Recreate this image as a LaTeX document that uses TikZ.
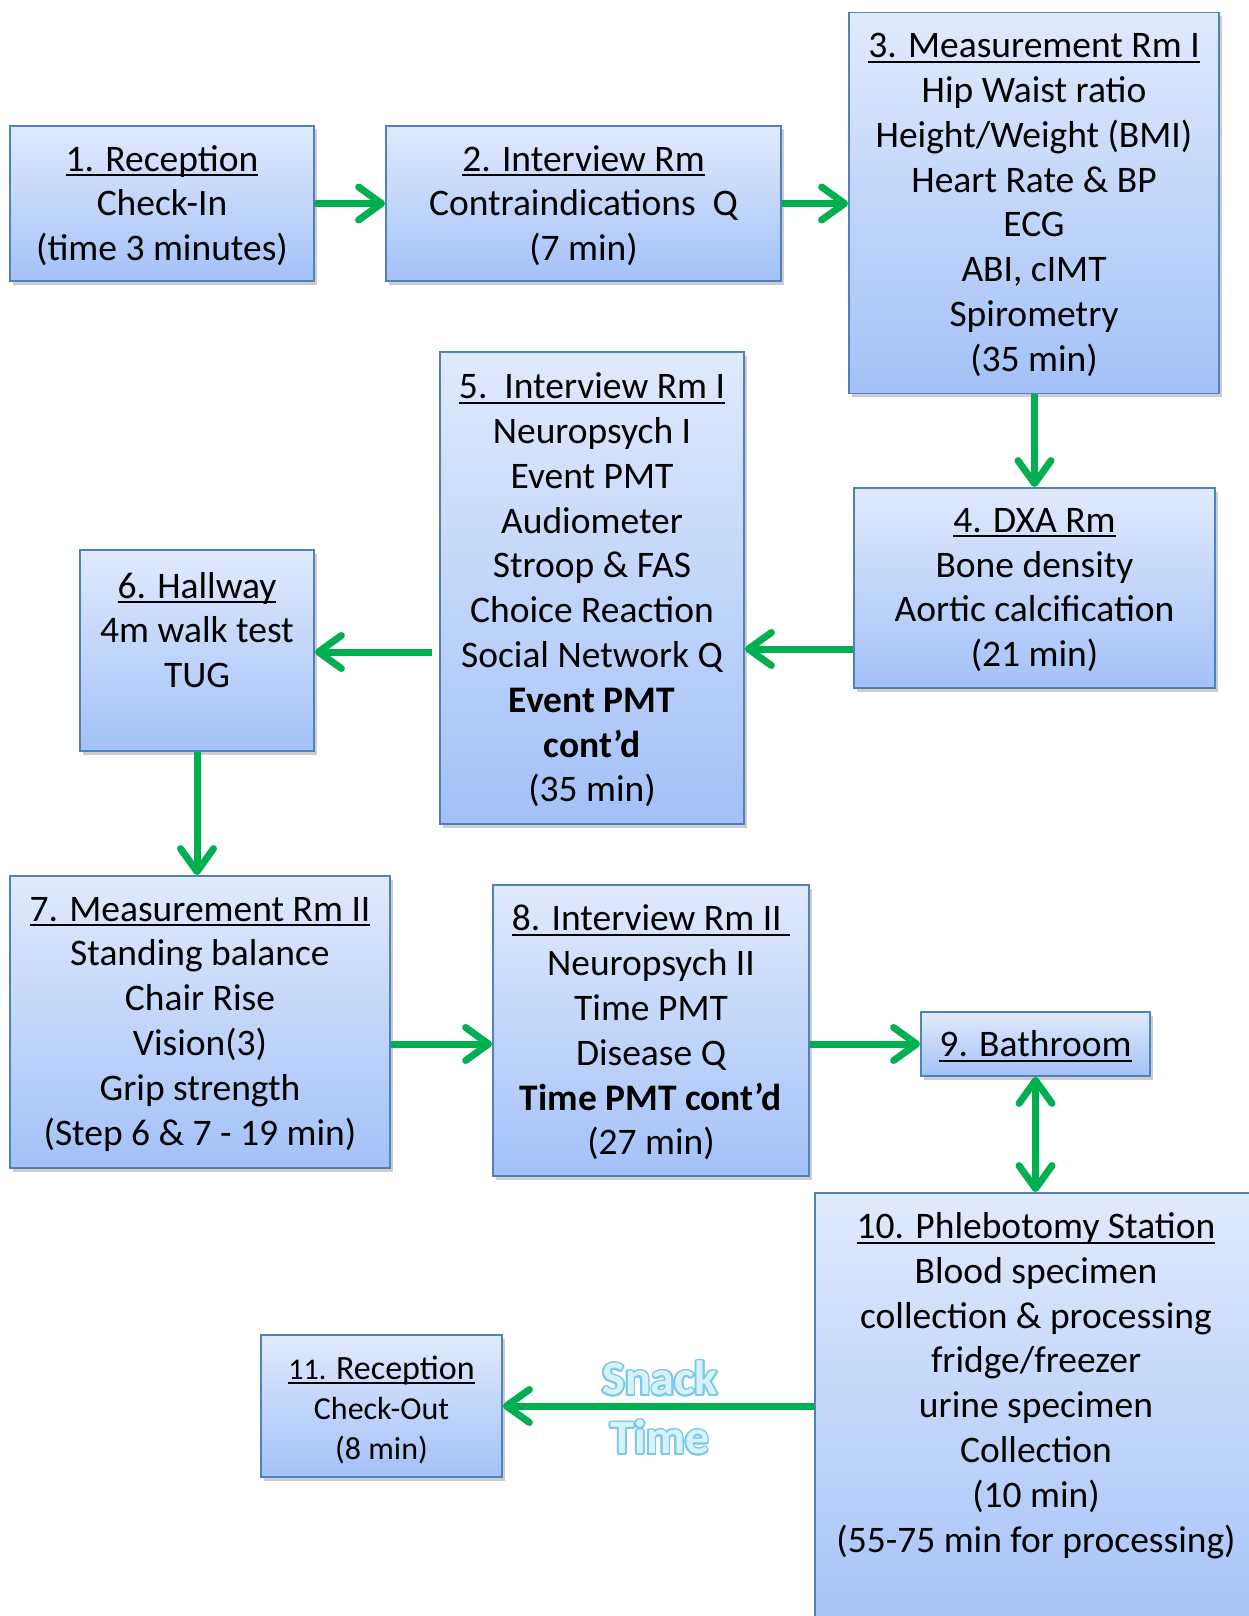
\documentclass[tikz,border=0pt]{standalone}
\usepackage{fontspec}
\setmainfont{Carlito}
\usepackage{contour}
\usetikzlibrary{arrows.meta,shadows}
\definecolor{boxtop}{HTML}{E0EAFC}
\definecolor{boxbot}{HTML}{A3C1F8}
\definecolor{boxline}{HTML}{4F81BD}
\definecolor{flow}{HTML}{00B050}
\definecolor{snackfill}{HTML}{D8F2FC}
\definecolor{snackedge}{HTML}{7CC9E8}
% underline that sits just under the baseline
\newcommand\ulin[1]{\leavevmode\setbox0=\hbox{#1}\rlap{\rule[-0.14em]{\wd0}{0.055em}}\box0}
\contourlength{1.7pt}
\begin{document}
\begin{tikzpicture}[x=1pt,y=-1pt,
  box/.style={rectangle, draw=boxline, line width=1.8pt, inner sep=0pt,
    top color=boxtop, bottom color=boxbot,
    drop shadow={shadow xshift=2.5pt, shadow yshift=-3.5pt, opacity=0.28, fill=black!70}},
  txt/.style={align=center, inner sep=0pt, yshift=-2pt, font=\fontsize{37.5}{44.8}\selectfont},
  smalltxt/.style={align=center, inner sep=0pt, font=\fontsize{32}{40}\selectfont},
  arrowtip/.style={},
  flowline/.style={draw=flow, line width=7pt, -{Straight Barb[length=23pt,width=33pt,round]}},
  flowboth/.style={draw=flow, line width=7pt, {Straight Barb[length=23pt,width=33pt,round]}-{Straight Barb[length=23pt,width=33pt,round]}},
  snack/.style={inner sep=0pt, text=snackfill, font=\fontsize{48}{54}\selectfont\bfseries}
]
\useasboundingbox (0,0) rectangle (1248,1616);
\fill[white] (0,0) rectangle (1248,1616);

% boxes
\node[box, minimum width=304pt, minimum height=155pt] (b1) at (162,203.5) {};
\node[box, minimum width=395pt, minimum height=155pt] (b2) at (583.5,203.5) {};
\node[box, minimum width=370pt, minimum height=381pt] (b3) at (1034,203) {};
\node[box, minimum width=361pt, minimum height=200pt] (b4) at (1034.5,588) {};
\node[box, minimum width=304pt, minimum height=472pt] (b5) at (592,588) {};
\node[box, minimum width=234pt, minimum height=201pt] (b6) at (197,650.5) {};
\node[box, minimum width=380pt, minimum height=292pt] (b7) at (200,1022) {};
\node[box, minimum width=316pt, minimum height=291pt] (b8) at (651,1030.5) {};
\node[box, minimum width=229pt, minimum height=64pt] (b9) at (1035.5,1044) {};
\node[box, minimum width=442pt, minimum height=450pt] (b10) at (1036,1418) {};
\node[box, minimum width=241pt, minimum height=142pt] (b11) at (381.5,1406) {};

% texts
\node[txt] (t1) at (b1.center) {\ulin{1. Reception}\\ Check-In\\ (time 3 minutes)};
\node[txt] (t2) at (b2.center) {\ulin{2. Interview Rm}\\ Contraindications\ \ Q\\ (7 min)};
\node[txt] (t3) at (b3.center) {\ulin{3. Measurement Rm I}\\ Hip Waist ratio\\ Height/Weight (BMI)\\
  Heart Rate \& BP\\ ECG\\ ABI, cIMT\\ Spirometry\\ (35 min)};
\node[txt] (t4) at (b4.center) {\ulin{4. DXA Rm}\\ Bone density\\ Aortic calcification\\ (21 min)};
\node[txt] (t5) at (b5.center) {\ulin{5.\ \ Interview Rm I}\\ Neuropsych I\\ Event PMT\\ Audiometer\\
  Stroop \& FAS\\ Choice Reaction\\ Social Network Q\\ \textbf{Event PMT}\\ \textbf{cont’d}\\ (35 min)};
\node[txt] (t6) at (197,628) {\ulin{6. Hallway}\\ 4m walk test\\ TUG};
\node[txt] (t7) at (b7.center) {\ulin{7. Measurement Rm II}\\ Standing balance\\ Chair Rise\\ Vision(3)\\
  Grip strength\\ (Step 6 \& 7 - 19 min)};
\node[txt] (t8) at (b8.center) {\ulin{8. Interview Rm II\ }\\ Neuropsych II\\ Time PMT\\ Disease Q\\
  \textbf{Time PMT cont’d}\\ (27 min)};
\node[txt] (t9) at (b9.center) {\ulin{9. Bathroom}};
\node[txt] (t10) at (1036,1383.5) {\ulin{10. Phlebotomy Station}\\ Blood specimen\\ collection \& processing\\
  fridge/freezer\\ urine specimen\\ Collection\\ (10 min)\\ (55-75 min for processing)};
\node[smalltxt] (t11) at (381.5,1410) {\ulin{{\fontsize{30}{40}\selectfont 11.} {\fontsize{34}{40}\selectfont Reception}}\\ Check-Out\\ (8 min)};

% helper rows for the horizontal connectors
\coordinate (y45) at (0,649);
\coordinate (y56) at (0,652);
\coordinate (y78) at (0,1044);
\coordinate (s56) at (432,652);

% connectors
\draw[flowline] (b1.east) -- (b2.west);
\draw[flowline] (b2.east) -- (b2.east -| b3.west);
\draw[flowline] (b3.south -| b4.north) -- (b4.north);
\draw[flowline] (b4.west |- y45) -- (b5.east |- y45);
\draw[flowline] (s56) -- (b6.east |- y56);
\draw[flowline] (b6.south) -- (b6.south |- b7.north);
\draw[flowline] (b7.east |- y78) -- (b8.west |- y78);
\draw[flowline] (b8.east |- y78) -- (b9.west);
\draw[flowboth] (b9.south) -- (b9.south |- b10.north);
\draw[flowline] (b10.west |- b11.east) -- (b11.east);

% glowing caption on the last connector
\node[snack] (snack1) at (660,1379) {\contour{snackedge}{Snack}};
\node[snack] (snack2) at (660,1438) {\contour{snackedge}{Time}};
\end{tikzpicture}
\end{document}
